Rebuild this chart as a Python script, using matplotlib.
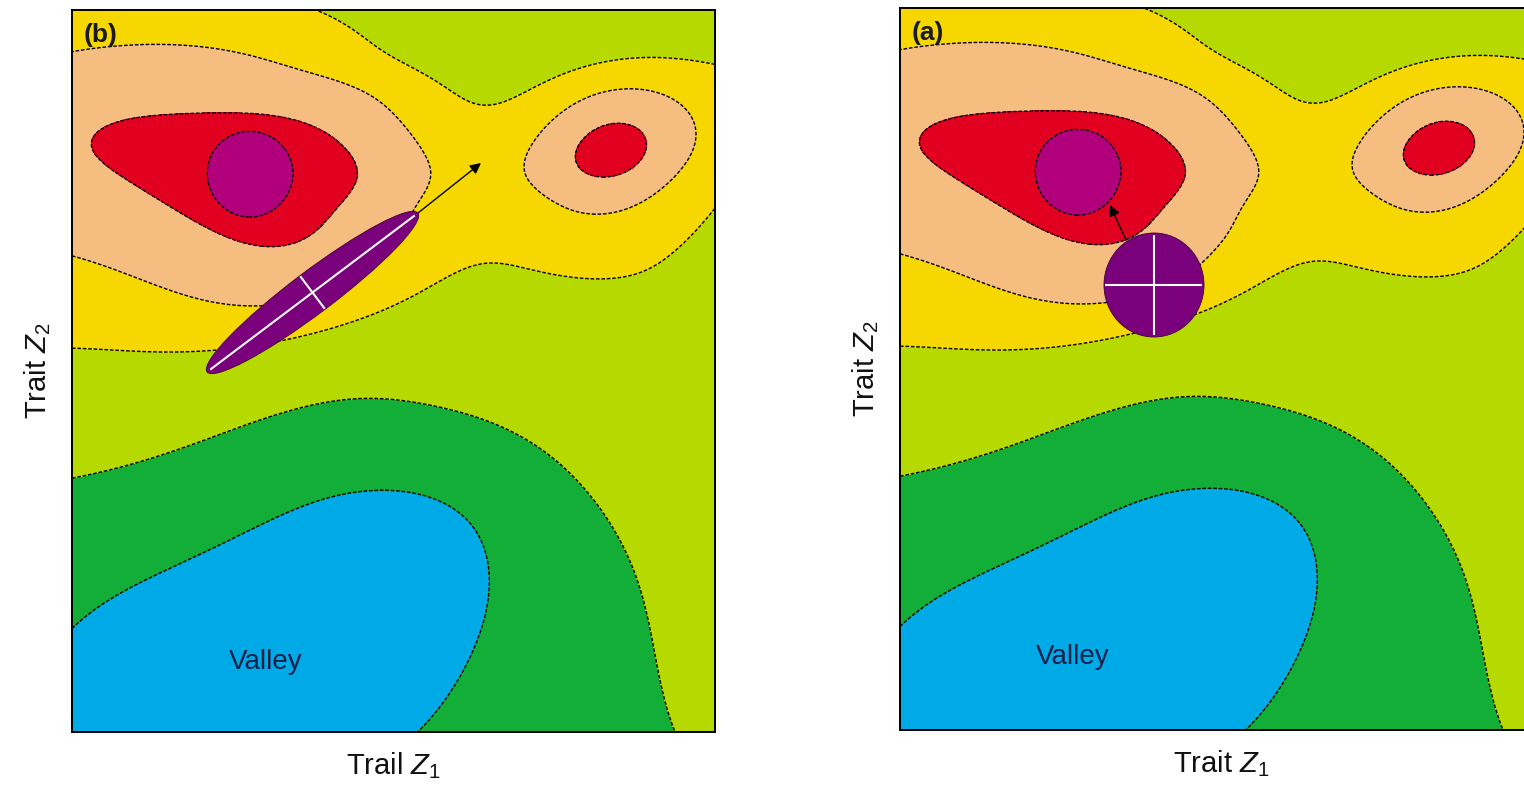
import numpy as np
import matplotlib
matplotlib.use('Agg')
import matplotlib.pyplot as plt
from matplotlib.patches import Ellipse

plt.rcParams['font.family'] = ['Liberation Sans', 'DejaVu Sans']
plt.rcParams['mathtext.fontset'] = 'custom'
plt.rcParams['mathtext.rm'] = 'Liberation Sans'
plt.rcParams['mathtext.it'] = 'Liberation Sans:italic'

# ---- fitness landscape (trait space Z1: 0..643, Z2: 0..722) ----
z1_range = (0, 643)
z2_range = (0, 722)
# components: broad peak, summit, second peak, ridge, valley, valley shoulder, plateau
comp_z1     = [83.1, 177.6, 537.0, 307.7, 234.0, 432.9, 430.0]
comp_z2     = [512.6, 557.6, 581.6, 480.7, 546.4, 126.2, 607.3]
comp_s1     = [277.8, 38.0, 73.1, 328.4, 298.6, 117.2, 242.0]
comp_s2     = [175.8, 39.3, 59.4, 101.5, 709.5, 272.0, 60.0]
comp_tilt   = [0.594, -0.105, 0.343, -0.363, -0.465, -0.452, 0.063]
comp_height = [2.310, 1.795, 3.432, 2.139, -1.937, -1.199, 0.447]
comp_shape  = [2.200, 3.000, 0.900, 1.156, 2.200, 0.900, 2.200]
base_level, slope_z1, slope_z2 = -0.540, -0.028, 0.283

contour_levels = [-2.0, -1.0, 1.0, 2.0, 3.0, 4.0]
band_colors = ['#00AAE7', '#13AE37', '#B6D900', '#F6D800', '#F6BD80', '#E1001F', '#B2007C']

# populations (G-matrix shapes) and selection responses
panel_tags = ['(b)', '(a)']
xlabels = ['Trail $Z_1$', 'Trait $Z_1$']
pop_center_z1 = [240.5, 254.0]
pop_center_z2 = [439.5, 445.0]
pop_major = [264.0, 100.0]
pop_minor = [42.0, 104.0]
pop_angle = [37.0, 0.0]
arrow_tail_z1 = [346.0, 226.0]
arrow_tail_z2 = [519.0, 490.0]
arrow_head_z1 = [409.0, 210.0]
arrow_head_z2 = [569.0, 525.0]
valley_z1 = [194.0, 173.0]
valley_z2 = [70.0, 73.0]


def landscape(Z1, Z2):
    f = base_level + slope_z1 * Z1 / 100 + slope_z2 * Z2 / 100
    for cx, cy, sx, sy, th, h, be in zip(comp_z1, comp_z2, comp_s1, comp_s2,
                                         comp_tilt, comp_height, comp_shape):
        c, s = np.cos(th), np.sin(th)
        dx, dy = Z1 - cx, Z2 - cy
        u = c * dx + s * dy
        v = -s * dx + c * dy
        q = (u / sx) ** 2 + (v / sy) ** 2 + 1e-9
        f = f + h * np.exp(-0.5 * q ** be)
    return f


g1 = np.linspace(z1_range[0], z1_range[1], 645)
g2 = np.linspace(z2_range[0], z2_range[1], 723)
G1, G2 = np.meshgrid(g1, g2)
W = landscape(G1, G2)

fig = plt.figure(figsize=(15.24, 7.86), dpi=100)
W_PX, H_PX = 1524, 786
axes_px = [(72, 10), (900, 8)]

for i, (lx, ty) in enumerate(axes_px):
    ax = fig.add_axes([lx / W_PX, (H_PX - ty - 722) / H_PX, 643 / W_PX, 722 / H_PX])
    ax.contourf(G1, G2, W, levels=[-99] + contour_levels + [99], colors=band_colors, zorder=1)
    ax.contour(G1, G2, W, levels=contour_levels, colors='k', linewidths=1.0,
               linestyles=[(0, (2.6, 1.3))], zorder=2)
    ax.set_xlim(*z1_range)
    ax.set_ylim(*z2_range)
    ax.set_xticks([])
    ax.set_yticks([])
    for sp in ax.spines.values():
        sp.set_linewidth(1.4)
        sp.set_color('k')
        sp.set_zorder(10)

    # population
    cx, cy = pop_center_z1[i], pop_center_z2[i]
    ell = Ellipse((cx, cy), pop_major[i], pop_minor[i], angle=pop_angle[i],
                  facecolor='#7A007C', edgecolor='#3C003C', linewidth=0.6, zorder=3)
    ax.add_patch(ell)
    a = np.deg2rad(pop_angle[i])
    hm = pop_major[i] / 2 * 0.97
    hn = pop_minor[i] / 2 * 0.97
    ax.plot([cx - hm * np.cos(a), cx + hm * np.cos(a)],
            [cy - hm * np.sin(a), cy + hm * np.sin(a)],
            color='white', lw=1.5, zorder=4, solid_capstyle='butt')
    ax.plot([cx + hn * np.sin(a), cx - hn * np.sin(a)],
            [cy - hn * np.cos(a), cy + hn * np.cos(a)],
            color='white', lw=1.5, zorder=4, solid_capstyle='butt')

    ax.annotate('', xy=(arrow_head_z1[i], arrow_head_z2[i]),
                xytext=(arrow_tail_z1[i], arrow_tail_z2[i]),
                arrowprops=dict(arrowstyle='-|>', color='k', lw=1.0,
                                mutation_scale=16, shrinkA=0, shrinkB=0),
                zorder=5)

    ax.text(valley_z1[i], valley_z2[i], 'Valley', fontsize=20, color='#10204A',
            ha='center', va='center', zorder=6)
    ax.text(12, 709, panel_tags[i], fontsize=19, fontweight='bold', color='#1A1A1A',
            ha='left', va='top', zorder=6)

    ax.set_xlabel(xlabels[i], fontsize=21, labelpad=13, color='#111111')
    ax.set_ylabel('Trait $Z_2$', fontsize=21, labelpad=14, color='#111111')

fig.savefig('out.png', dpi=100)
